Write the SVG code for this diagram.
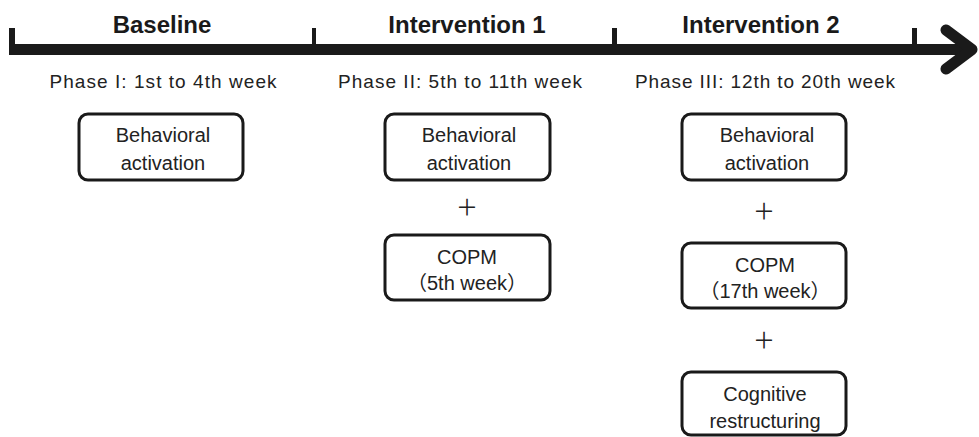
<svg xmlns="http://www.w3.org/2000/svg" width="979" height="437" viewBox="0 0 979 437">
<style>
.hdr{font-family:"Liberation Sans","Noto Sans CJK JP",sans-serif;font-size:24px;font-weight:bold;fill:#1a1a1a;text-anchor:middle}
.ph{font-family:"Liberation Sans","Noto Sans CJK JP",sans-serif;font-size:19px;fill:#222;text-anchor:middle}
.bx{fill:#fff;stroke:#1a1a1a;stroke-width:3}
.t{font-family:"Liberation Sans","Noto Sans CJK JP",sans-serif;font-size:20px;fill:#222;text-anchor:middle}
.plus{font-family:"Noto Sans CJK JP",sans-serif;font-size:22px;fill:#222;text-anchor:middle}
.tick{fill:#1a1a1a}
</style>
<g id="connectors">
<rect x="9" y="44" width="962" height="11" fill="#1a1a1a"/>
<rect class="tick" x="9" y="28" width="6" height="20"/>
<rect class="tick" x="312" y="28" width="4" height="20"/>
<rect class="tick" x="612" y="28" width="5" height="20"/>
<rect class="tick" x="912" y="28" width="5" height="20"/>
<path d="M946 30 L972 49.5 L946 69" fill="none" stroke="#1a1a1a" stroke-width="11" stroke-linecap="round" stroke-linejoin="round"/>
</g>
<g id="headers">
<text class="hdr" x="162" y="33">Baseline</text>
<text class="hdr" x="467" y="33">Intervention 1</text>
<text class="hdr" x="761" y="33">Intervention 2</text>
<text class="ph" x="163" y="88" textLength="227" lengthAdjust="spacing">Phase I: 1st to 4th week</text>
<text class="ph" x="460" y="88" textLength="244" lengthAdjust="spacing">Phase II: 5th to 11th week</text>
<text class="ph" x="765" y="88" textLength="260" lengthAdjust="spacing">Phase III: 12th to 20th week</text>
</g>
<g id="ba1">
<rect class="bx" x="79" y="114" width="164" height="66" rx="9"/>
<text class="t" x="163" y="142">Behavioral</text>
<text class="t" x="163" y="170">activation</text>
</g>
<g id="ba2">
<rect class="bx" x="385" y="114" width="165" height="66" rx="9"/>
<text class="t" x="469" y="142">Behavioral</text>
<text class="t" x="469" y="170">activation</text>
</g>
<g id="plus2"><text class="plus" x="467" y="215">＋</text></g>
<g id="copm2">
<rect class="bx" x="385" y="235" width="165" height="65" rx="9"/>
<text class="t" x="467" y="264">COPM</text>
<text class="t" x="467" y="290">（5th week）</text>
</g>
<g id="ba3">
<rect class="bx" x="682" y="114" width="164" height="66" rx="9"/>
<text class="t" x="767" y="142">Behavioral</text>
<text class="t" x="767" y="170">activation</text>
</g>
<g id="plus3a"><text class="plus" x="764" y="219">＋</text></g>
<g id="copm3">
<rect class="bx" x="682" y="243" width="164" height="65" rx="9"/>
<text class="t" x="765" y="272">COPM</text>
<text class="t" x="765" y="298">（17th week）</text>
</g>
<g id="plus3b"><text class="plus" x="764" y="348">＋</text></g>
<g id="cog3">
<rect class="bx" x="682" y="372" width="164" height="63" rx="9"/>
<text class="t" x="765" y="401">Cognitive</text>
<text class="t" x="765" y="428">restructuring</text>
</g>
</svg>
